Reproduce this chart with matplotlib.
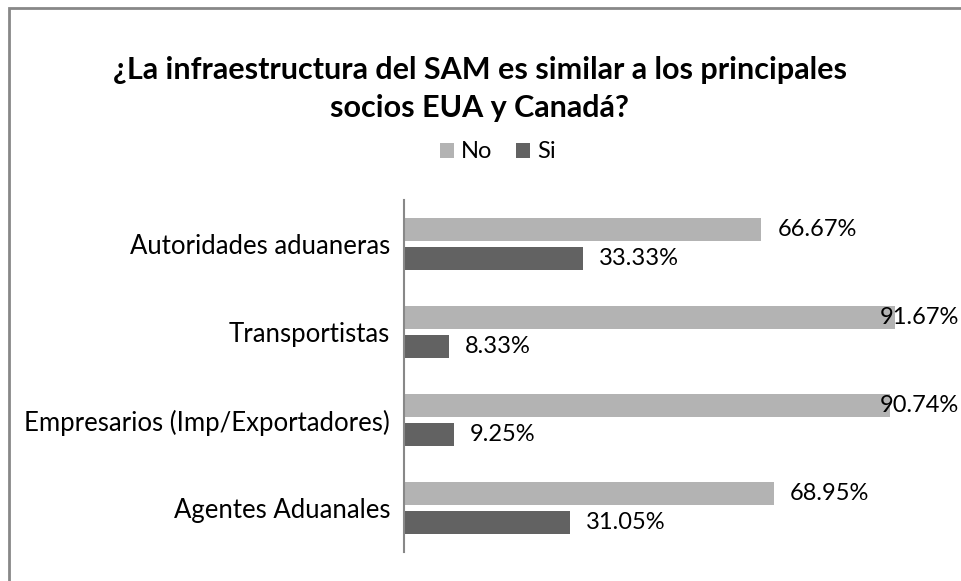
import matplotlib
matplotlib.use('Agg')
import matplotlib.pyplot as plt
from matplotlib.patches import Rectangle
import numpy as np

categorias = ['Autoridades aduaneras', 'Transportistas',
              'Empresarios (Imp/Exportadores)', 'Agentes Aduanales']
no_vals = [66.67, 91.67, 90.74, 68.95]
si_vals = [33.33, 8.33, 9.25, 31.05]
no_labels = ['66.67%', '91.67%', '90.74%', '68.95%']
si_labels = ['33.33%', '8.33%', '9.25%', '31.05%']
titulo = '¿La infraestructura del SAM es similar a los principales\nsocios EUA y Canadá?'

plt.rcParams['font.family'] = ['Lato', 'DejaVu Sans']

color_no = '#b3b3b3'
color_si = '#626262'

fig = plt.figure(figsize=(9.61, 5.81), dpi=100)
ax = fig.add_axes([404/961, (581-552)/581, 536/961, 352/581])

y = np.arange(len(categorias))
h = 0.265
off = 0.165
b_no = ax.barh(y - off, no_vals, height=h, color=color_no, label='No')
b_si = ax.barh(y + off, si_vals, height=h, color=color_si, label='Si')

etiquetas = []
for yy, v, t in zip(y, no_vals, no_labels):
    etiquetas.append(ax.annotate(t, (v, yy - off), xytext=(11.5, 0), textcoords='offset points',
                                 va='center', ha='left', fontsize=17, color='black'))
for yy, v, t in zip(y, si_vals, si_labels):
    etiquetas.append(ax.annotate(t, (v, yy + off), xytext=(11.5, 0), textcoords='offset points',
                                 va='center', ha='left', fontsize=17, color='black'))

ax.set_xlim(0, 100)
ax.set_ylim(3.5, -0.5)
ax.set_yticks(y)
ax.set_yticklabels(categorias, fontsize=18.5)
ax.tick_params(axis='y', length=0, pad=10)
ax.set_xticks([])
for s in ['top', 'right', 'bottom']:
    ax.spines[s].set_visible(False)
ax.spines['left'].set_color('#888888')
ax.spines['left'].set_linewidth(1.5)

fig.text(480/961, 1 - 89/581, titulo, ha='center', va='center',
         fontsize=22, fontweight='bold', linespacing=1.45)

leg = fig.legend(handles=[b_no, b_si], loc='center', bbox_to_anchor=(498/961, 1 - 152/581),
                 ncol=2, frameon=False, fontsize=17, handlelength=0.6, handleheight=0.6,
                 handletextpad=0.3, columnspacing=1.0)

fig.patches.append(Rectangle((8.5/961, -0.1), 1.2, (581-7.5)/581 + 0.1,
                             transform=fig.transFigure, fill=False,
                             edgecolor='#888888', linewidth=2))

# labels that would leave the picture are pulled back inside, as Excel does
fig.canvas.draw()
r = fig.canvas.get_renderer()
for e in etiquetas:
    bb = e.get_window_extent(r)
    if bb.x1 > 959:
        e.set_position((11.5 - (bb.x1 - 959) * 72 / fig.dpi, 0))

fig.savefig('out.png', dpi=100)
